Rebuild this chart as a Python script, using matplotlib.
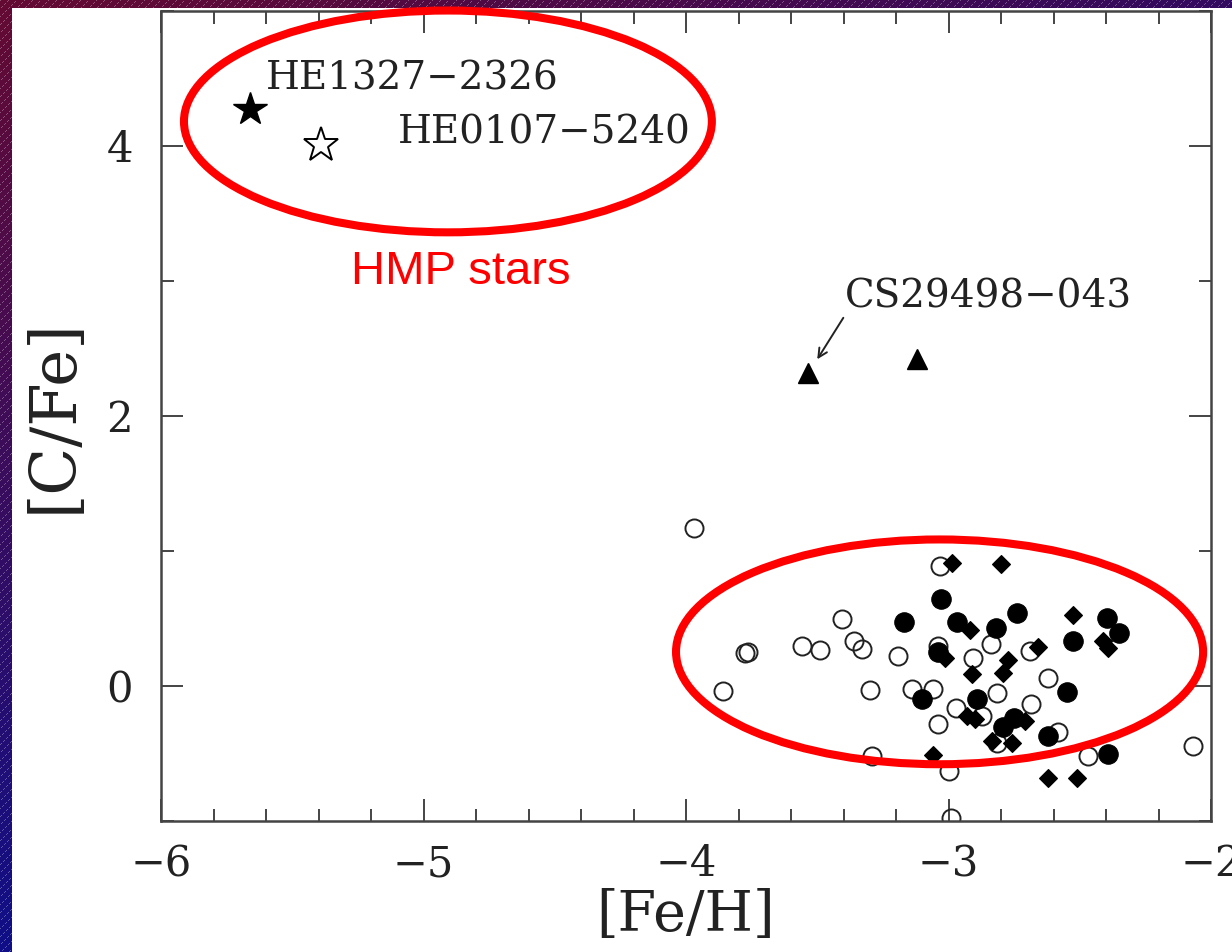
import numpy as np
import matplotlib
matplotlib.use("Agg")
import matplotlib.pyplot as plt
from matplotlib.patches import Ellipse, Rectangle
from matplotlib.ticker import MultipleLocator

# ---- data: [Fe/H] vs [C/Fe] ----
open_fe = [-3.97, -3.775, -3.764, -3.558, -3.49, -3.406, -3.36, -3.33, -3.859,
           -3.299, -3.291, -3.192, -3.139, -3.059, -3.04, -3.032, -3.04, -2.971,
           -2.998, -2.99, -2.838, -2.907, -2.815, -2.872, -2.815, -2.69, -2.621,
           -2.686, -2.583, -2.469, -2.069]
open_c = [1.167, 0.245, 0.253, 0.297, 0.268, 0.498, 0.335, 0.275, -0.037,
          -0.03, -0.52, 0.223, -0.022, -0.022, -0.283, 0.892, 0.297, -0.164,
          -0.632, -0.981, 0.312, 0.208, -0.052, -0.223, -0.424, 0.26, 0.059,
          -0.134, -0.342, -0.52, -0.446]

filled_fe = [-3.029, -3.17, -2.968, -2.819, -2.739, -3.04, -3.101, -2.891,
             -2.792, -2.75, -2.526, -2.396, -2.35, -2.549, -2.621, -2.392]
filled_c = [0.647, 0.476, 0.476, 0.431, 0.543, 0.253, -0.097, -0.097,
            -0.305, -0.238, 0.335, 0.506, 0.394, -0.045, -0.372, -0.506]

diam_fe = [-2.987, -2.8, -2.918, -3.013, -2.91, -2.773, -2.792, -2.93, -2.899,
           -2.709, -2.834, -2.758, -3.059, -2.526, -2.411, -2.392, -2.659,
           -2.621, -2.51]
diam_c = [0.914, 0.907, 0.416, 0.208, 0.089, 0.193, 0.097, -0.223, -0.245,
          -0.26, -0.409, -0.424, -0.513, 0.528, 0.335, 0.283, 0.29,
          -0.684, -0.684]

tri_fe = [-3.535, -3.12]
tri_c = [2.32, 2.42]

hmp_names = ["HE1327\u22122326", "HE0107\u22125240"]
hmp_fe = [-5.66, -5.39]
hmp_c = [4.275, 4.01]

W, H = 1232, 952
fig = plt.figure(figsize=(W / 100, H / 100), dpi=100)

# striped gradient backdrop (only a thin frame of it shows)
yy, xx = np.mgrid[0:H, 0:W]
t = np.clip(yy / H, 0, 1)[..., None]
s = np.clip(xx / W, 0, 1)[..., None]
top_l = np.array([100, 10, 50]) / 255
top_r = np.array([50, 10, 95]) / 255
bot = np.array([15, 15, 135]) / 255
rgb = (1 - t) * ((1 - s) * top_l + s * top_r) + t * bot
stripe = ((xx + yy) % 8 == 0) & ((xx - yy) % 6 < 3)
rgb[stripe] = rgb[stripe] * 0.7 + 0.3
bg = fig.add_axes([0, 0, 1, 1], zorder=-10)
bg.imshow(rgb, aspect="auto", interpolation="nearest")
bg.axis("off")
fig.patches.append(Rectangle((12 / W, 0), 1, 1 - 8 / H, transform=fig.transFigure,
                             facecolor="white", edgecolor="none", zorder=-5))

serif = "DejaVu Serif"
ink = "#222222"
ax = fig.add_axes([161 / W, 131 / H, 1050 / W, 810 / H])
ax.set_facecolor("none")

ax.plot(open_fe, open_c, "o", ms=13, mfc="none", mec=ink, mew=1.4)
ax.plot(filled_fe, filled_c, "o", ms=14, mfc="black", mec="black", mew=0.8)
ax.plot(diam_fe, diam_c, "D", ms=8.8, mfc="black", mec="black", mew=0.8)
ax.plot(tri_fe, tri_c, "^", ms=14, mfc="black", mec="black")
ax.plot(hmp_fe[0], hmp_c[0], "*", ms=25, mfc="black", mec="black")
ax.plot(hmp_fe[1], hmp_c[1], "*", ms=26, mfc="white", mec="black", mew=1.4)

ax.text(-5.60, 4.50, hmp_names[0], fontsize=28, family=serif, color=ink,
        va="center", ha="left")
ax.text(-5.097, 4.10, hmp_names[1], fontsize=28, family=serif, color=ink,
        va="center", ha="left")
ax.annotate("CS29498\u2212043", xy=(-3.50, 2.42), xytext=(-3.394, 2.885),
            fontsize=28, family=serif, color=ink, va="center", ha="left",
            arrowprops=dict(arrowstyle="->", color=ink, lw=1.4,
                            mutation_scale=16, shrinkA=0, shrinkB=0,
                            relpos=(0.0, 0.0)))

ax.text(-4.857, 3.07, "HMP stars", fontsize=34, family="Liberation Sans",
        color="#ff0000", ha="center", va="center")

for cx, cy, ew, eh in [(-4.907, 4.182, 2.011, 1.643), (-3.034, 0.253, 2.008, 1.665)]:
    ax.add_patch(Ellipse((cx, cy), ew, eh, fill=False, edgecolor="#ff0000",
                         lw=5.8, clip_on=False, zorder=5))

ax.set_xlim(-6, -2)
ax.set_ylim(-1, 5)
ax.xaxis.set_major_locator(MultipleLocator(1))
ax.xaxis.set_minor_locator(MultipleLocator(0.2))
ax.yaxis.set_major_locator(MultipleLocator(2))
ax.yaxis.set_minor_locator(MultipleLocator(1))
ax.tick_params(which="both", direction="in", top=True, right=True,
               color="#444444", width=1.4, labelsize=30, labelcolor=ink)
ax.tick_params(axis="x", pad=16)
ax.tick_params(axis="y", pad=20)
ax.tick_params(which="major", length=16)
ax.tick_params(which="minor", length=9)
for lab in ax.get_xticklabels() + ax.get_yticklabels():
    lab.set_family(serif)
for sp in ax.spines.values():
    sp.set_color("#444444")
    sp.set_linewidth(1.8)

ax.set_xlabel("[Fe/H]", fontsize=40, family=serif, color=ink, labelpad=2)
ax.set_ylabel("[C/Fe]", fontsize=45, family=serif, color=ink, labelpad=16)

fig.savefig("out.png", dpi=100)
